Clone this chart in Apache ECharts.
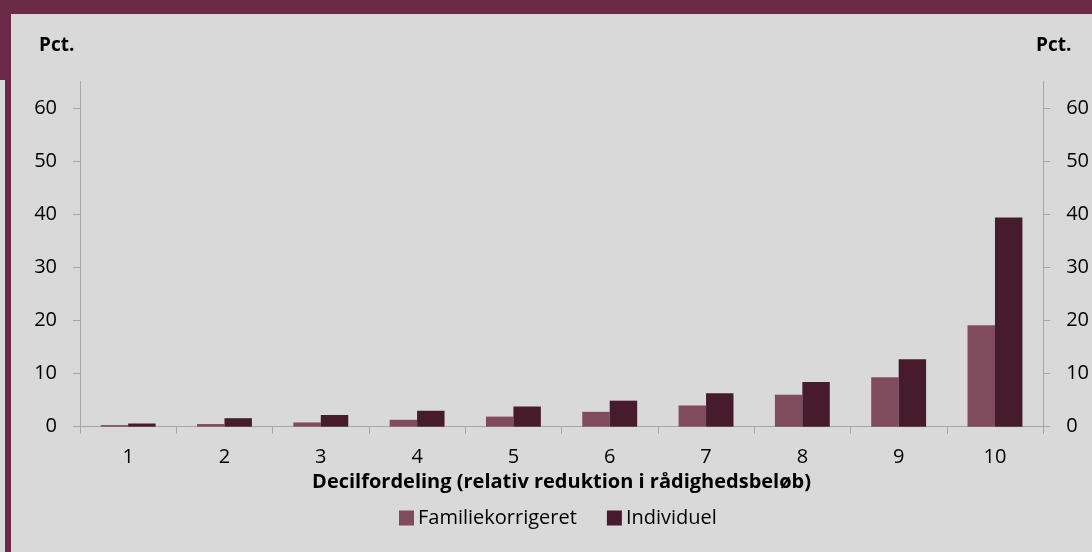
<!DOCTYPE html>
<html><head><meta charset="utf-8">
<script src="https://cdn.jsdelivr.net/npm/echarts@6/dist/echarts.min.js"></script>
<style>html,body{margin:0;padding:0;background:#D9D9D9}#c{width:1092px;height:552px}</style>
</head><body><div id="c"></div>
<script>
const categories = ['1','2','3','4','5','6','7','8','9','10'];
const familiekorrigeret = [0.3, 0.5, 0.8, 1.3, 1.9, 2.8, 4.0, 6.0, 9.3, 19.1];
const individuel = [0.6, 1.6, 2.2, 3.0, 3.8, 4.9, 6.3, 8.4, 12.7, 39.4];
const yTicks = [0, 10, 20, 30, 40, 50, 60];
const seriesNames = ['Familiekorrigeret', 'Individuel'];
const xTitle = 'Decilfordeling (relativ reduktion i rådighedsbeløb)';
const unit = 'Pct.';

const FONT = '"Open Sans", Lato, sans-serif';
const chart = echarts.init(document.getElementById('c'));
const yAxisBase = (pos) => ({
  type: 'value', position: pos, min: 0, max: 65, interval: 10,
  axisLine: {show: true, lineStyle: {color: '#A6A6A6', width: 1}},
  axisTick: {show: true, length: 7, lineStyle: {color: '#A6A6A6'}, customValues: yTicks},
  axisLabel: {color: '#000', fontSize: 20, fontFamily: FONT, margin: 23, customValues: yTicks},
  splitLine: {show: false}
});
chart.setOption({
  backgroundColor: '#D9D9D9',
  animation: false,
  graphic: [
    {type: 'rect', shape: {x: 0, y: 0, width: 1092, height: 14}, style: {fill: '#6B2B48'}},
    {type: 'rect', shape: {x: 5, y: 0, width: 6, height: 552}, style: {fill: '#6B2B48'}},
    {type: 'rect', shape: {x: 0, y: 0, width: 5, height: 80}, style: {fill: '#6B2B48'}},
    {type: 'text', left: 39, top: 36, style: {text: unit, font: 'bold 19px ' + FONT, fill: '#000'}},
    {type: 'text', left: 1036, top: 36, style: {text: unit, font: 'bold 19px ' + FONT, fill: '#000'}}
  ],
  grid: {left: 80, right: 48, top: 81.5, bottom: 125.3, containLabel: false},
  legend: {
    top: 503, left: 394, itemWidth: 15, itemHeight: 15, itemGap: 30,
    icon: 'rect',
    textStyle: {fontSize: 20, fontFamily: FONT, color: '#000', padding: [0, 0, 0, -1]},
    data: seriesNames
  },
  xAxis: {
    type: 'category', data: categories,
    name: xTitle, nameLocation: 'middle', nameGap: 42,
    nameTextStyle: {fontWeight: 'bold', fontSize: 20, fontFamily: FONT, color: '#000'},
    axisLine: {lineStyle: {color: '#A6A6A6'}},
    axisTick: {show: true, length: 7, lineStyle: {color: '#A6A6A6'}},
    axisLabel: {color: '#000', fontSize: 20, fontFamily: FONT, margin: 21}
  },
  yAxis: [yAxisBase('left'), yAxisBase('right')],
  series: [
    {name: seriesNames[0], type: 'bar', data: familiekorrigeret, barWidth: '28.5%', barGap: '0%',
     itemStyle: {color: '#804B5D'}},
    {name: seriesNames[1], type: 'bar', data: individuel, barWidth: '28.5%', barGap: '0%',
     itemStyle: {color: '#461C2C'}}
  ]
});
</script></body></html>
